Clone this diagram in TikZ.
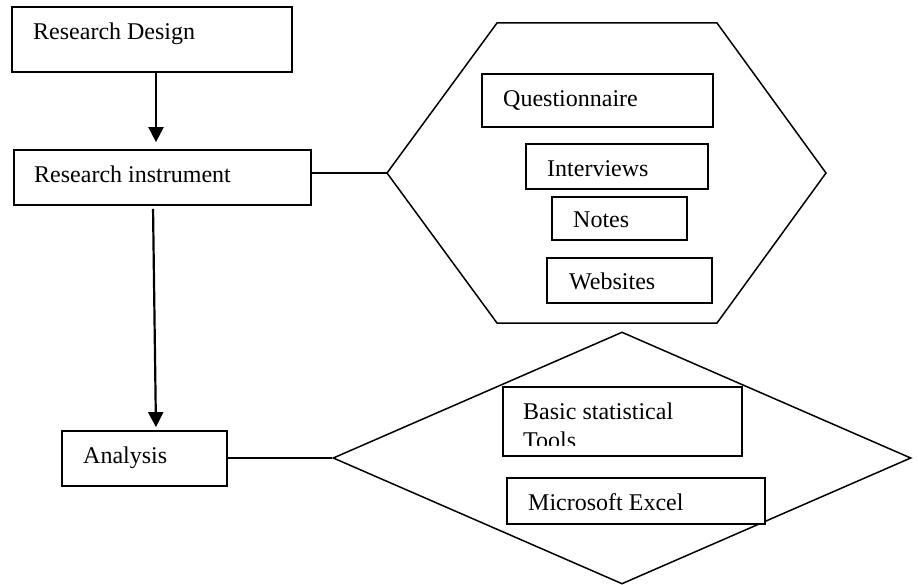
\documentclass[tikz,border=0pt]{standalone}
\usepackage{fontspec}
\setmainfont{Liberation Serif}
\usetikzlibrary{arrows.meta,shapes.geometric}

\tikzset{
  box/.style={draw, fill=white, line width=1.8pt, inner sep=0pt},
  outline/.style={draw, line width=1.5pt},
  lbl/.style={anchor=base west, inner sep=0pt, font=\fontsize{24}{28}\selectfont},
  link/.style={line width=1.5pt},
  arr/.style={line width=2.2pt, -{Triangle[width=15pt,length=15pt]}},
}

\begin{document}
\begin{tikzpicture}[x=1pt, y=-1pt]
  \useasboundingbox (0,0) rectangle (918,585);

  % outer shapes
  \coordinate (hexL) at (387,173);
  \draw[outline, fill=white] (hexL) -- (497,23) -- (717,23) -- (826,173)
        -- (717,323) -- (497,323) -- cycle;
  \node[outline, diamond, fill=white, inner sep=0pt,
        minimum width=578pt, minimum height=252pt] (dia) at (622,458) {};

  % main steps
  \node[box, minimum width=280pt, minimum height=65pt] (design) at (152,39.5) {};
  \node[lbl] (design-t) at (33,40) {Research Design};

  \node[box, minimum width=297pt, minimum height=55pt] (instrument) at (162.5,177.5) {};
  \node[lbl] (instrument-t) at (34,183) {Research instrument};

  \node[box, minimum width=165pt, minimum height=55pt] (analysis) at (144.5,458.5) {};
  \node[lbl] (analysis-t) at (83,463) {Analysis};

  % instruments
  \node[box, minimum width=231pt, minimum height=53pt] (quest) at (597.5,100.5) {};
  \node[lbl] (quest-t) at (503,107) {Questionnaire};

  \node[box, minimum width=182pt, minimum height=45pt] (interv) at (617,166.5) {};
  \node[lbl] (interv-t) at (547,177) {Interviews};

  \node[box, minimum width=135pt, minimum height=43pt] (notes) at (619.5,218.5) {};
  \node[lbl] (notes-t) at (573,228) {Notes};

  \node[box, minimum width=165pt, minimum height=45pt] (web) at (629.5,280.5) {};
  \node[lbl] (web-t) at (569,290) {Websites};

  % analysis tools
  \node[box, minimum width=239pt, minimum height=69pt] (stats) at (622.5,421.5) {};
  \node[lbl] (stats-t) at (523,419) {Basic statistical};
  \begin{scope}
    \clip (503,387) rectangle (742,445);
    \node[lbl] (stats-t2) at (523,448) {Tools};
  \end{scope}

  \node[box, minimum width=258pt, minimum height=46pt] (excel) at (636,501) {};
  \node[lbl] (excel-t) at (528,510) {Microsoft Excel};

  % connectors
  \draw[arr, shorten >=7pt] ([xshift=4pt]design.south) -- ([xshift=-6.5pt]instrument.north);
  \draw[arr, shorten <=3pt, shorten >=3pt] ([xshift=-9.5pt]instrument.south) -- ([xshift=11.5pt]analysis.north);
  \draw[link] (hexL -| instrument.east) -- (hexL);
  \draw[link] (analysis.east |- dia.west) -- (dia.west);
\end{tikzpicture}
\end{document}
